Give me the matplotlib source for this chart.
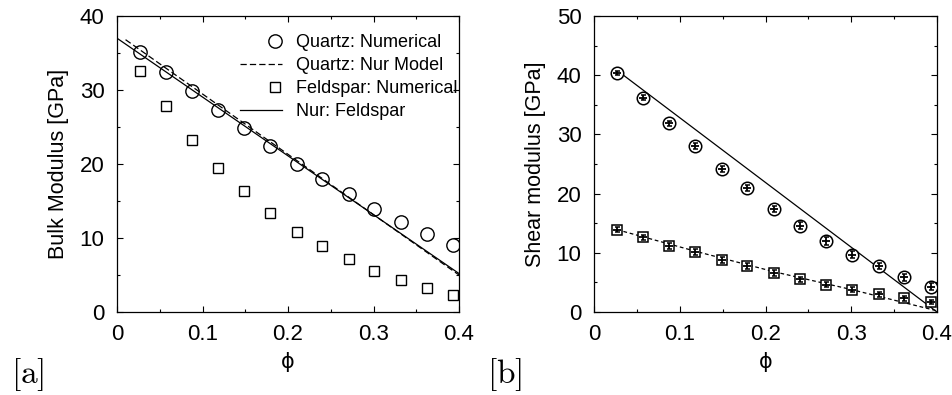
import numpy as np
import matplotlib
matplotlib.use("Agg")
import matplotlib.pyplot as plt
from matplotlib.legend_handler import HandlerLine2D
from matplotlib.lines import Line2D
from matplotlib.ticker import MultipleLocator

# ---------------- data ----------------
phi = [0.027, 0.057, 0.088, 0.118, 0.149, 0.179, 0.210, 0.240, 0.271, 0.301, 0.332, 0.362, 0.393]

bulk_quartz = [35.1, 32.4, 29.8, 27.3, 24.8, 22.5, 20.0, 18.0, 16.0, 13.9, 12.2, 10.5, 9.0]
bulk_feldspar = [32.6, 27.8, 23.2, 19.5, 16.3, 13.4, 10.8, 8.9, 7.2, 5.5, 4.3, 3.2, 2.3]

nur_quartz_x = [0.01, 0.4]
nur_quartz_y = [36.8, 5.0]
nur_feld_x = [0.0, 0.4]
nur_feld_y = [37.0, 5.2]

shear_quartz = [40.4, 36.2, 31.9, 28.1, 24.2, 20.9, 17.4, 14.6, 12.0, 9.7, 7.8, 5.9, 4.3]
shear_quartz_err = [0.3, 0.4, 0.4, 0.5, 0.5, 0.5, 0.5, 0.6, 0.6, 0.6, 0.5, 0.6, 0.6]
shear_feldspar = [13.9, 12.6, 11.2, 10.1, 8.8, 7.7, 6.6, 5.5, 4.6, 3.8, 3.0, 2.3, 1.7]
shear_feldspar_err = [0.4, 0.4, 0.5, 0.5, 0.5, 0.5, 0.5, 0.4, 0.4, 0.4, 0.4, 0.4, 0.4]

shear_nur_q_x = [0.027, 0.4]
shear_nur_q_y = [40.8, 0.0]
shear_nur_f_x = [0.027, 0.12, 0.21, 0.30, 0.4]
shear_nur_f_y = [13.9, 10.2, 6.8, 3.8, 0.2]

xticks = [0, 0.1, 0.2, 0.3, 0.4]
xticklabels = ["0", "0.1", "0.2", "0.3", "0.4"]

# ---------------- style ----------------
plt.rcParams['font.family'] = ['Liberation Sans', 'DejaVu Sans']
plt.rcParams['mathtext.fontset'] = 'cm'

W, H = 952, 395
fig = plt.figure(figsize=(W / 100, H / 100), dpi=100)

def px_axes(x0, x1, y0, y1):
    return fig.add_axes([x0 / W, 1 - y1 / H, (x1 - x0) / W, (y1 - y0) / H])

ax1 = px_axes(117, 459, 16, 312)
ax2 = px_axes(594, 937, 16, 312)

def style(ax, ymax, ylabel):
    ax.set_xlim(0, 0.4)
    ax.set_ylim(0, ymax)
    ax.set_xticks(xticks)
    ax.set_xticklabels(xticklabels)
    ax.xaxis.set_minor_locator(MultipleLocator(0.05))
    ax.yaxis.set_major_locator(MultipleLocator(10))
    ax.yaxis.set_minor_locator(MultipleLocator(5))
    ax.tick_params(which='both', direction='in', top=True, right=True,
                   width=0.8, labelsize=16)
    ax.tick_params(which='major', length=4.5)
    ax.tick_params(which='minor', length=2.2)
    ax.tick_params(axis='y', which='major', pad=9)
    ax.tick_params(axis='x', which='major', pad=8.5)
    for s in ax.spines.values():
        s.set_linewidth(0.9)
    ax.set_ylabel(ylabel, fontsize=15.5, labelpad=8)
    ax.set_xlabel('ϕ', fontsize=15, labelpad=5, family=['DejaVu Sans'])

style(ax1, 40, 'Bulk Modulus [GPa]')
style(ax2, 50, 'Shear modulus [GPa]')

# ---- panel a ----
ax1.plot(phi, bulk_quartz, linestyle='none', marker='o', ms=9.6, mfc='none',
         mec='black', mew=1.0, label='Quartz: Numerical', zorder=3)
ax1.plot(nur_quartz_x, nur_quartz_y, color='black', lw=0.9, dashes=(5, 2.5),
         label='Quartz: Nur Model')
ax1.plot(phi, bulk_feldspar, linestyle='none', marker='s', ms=7.7, mfc='none',
         mec='black', mew=1.0, label='Feldspar: Numerical', zorder=3)
ax1.plot(nur_feld_x, nur_feld_y, color='black', lw=0.9, label='Nur: Feldspar')


class RightMarker(HandlerLine2D):
    def create_artists(self, legend, orig_handle, xdescent, ydescent,
                       width, height, fontsize, trans):
        arts = super().create_artists(legend, orig_handle, xdescent, ydescent,
                                      width, height, fontsize, trans)
        if orig_handle.get_linestyle() in ('None', 'none', '', ' '):
            x = width - xdescent - 5.0
            for a in arts:
                a.set_xdata(np.full(len(a.get_xdata()), x))
        return arts


leg = ax1.legend(loc='upper left', bbox_to_anchor=(240 / W, 1 - 34 / H),
                 bbox_transform=fig.transFigure, frameon=False, fontsize=13,
                 handlelength=2.35, handletextpad=0.75, labelspacing=0.33,
                 borderpad=0, borderaxespad=0, numpoints=1,
                 handler_map={Line2D: RightMarker()})

# ---- panel b ----
ax2.plot(shear_nur_q_x, shear_nur_q_y, color='black', lw=0.9)
ax2.plot(shear_nur_f_x, shear_nur_f_y, color='black', lw=0.9, dashes=(3, 2.2))
ax2.plot(phi, shear_quartz, linestyle='none', marker='o', ms=9.0, mfc='white',
         mec='black', mew=1.1, zorder=3)
ax2.plot(phi, shear_feldspar, linestyle='none', marker='s', ms=7.2, mfc='white',
         mec='black', mew=1.1, zorder=3)
for vals, errs in ((shear_quartz, shear_quartz_err), (shear_feldspar, shear_feldspar_err)):
    ax2.errorbar(phi, vals, yerr=errs, fmt='none', ecolor='black', elinewidth=1.3,
                 capsize=1.8, capthick=1.1, zorder=4)
    ax2.plot(phi, vals, linestyle='none', marker='_', ms=5.5, mew=1.3,
             color='black', zorder=4)

# ---- panel tags ----
fig.text(28 / W, 1 - 383 / H, r'$\mathrm{[a]}$', fontsize=24, ha='center', va='baseline')
fig.text(505 / W, 1 - 383 / H, r'$\mathrm{[b]}$', fontsize=24, ha='center', va='baseline')

fig.savefig('out.png', dpi=100)
